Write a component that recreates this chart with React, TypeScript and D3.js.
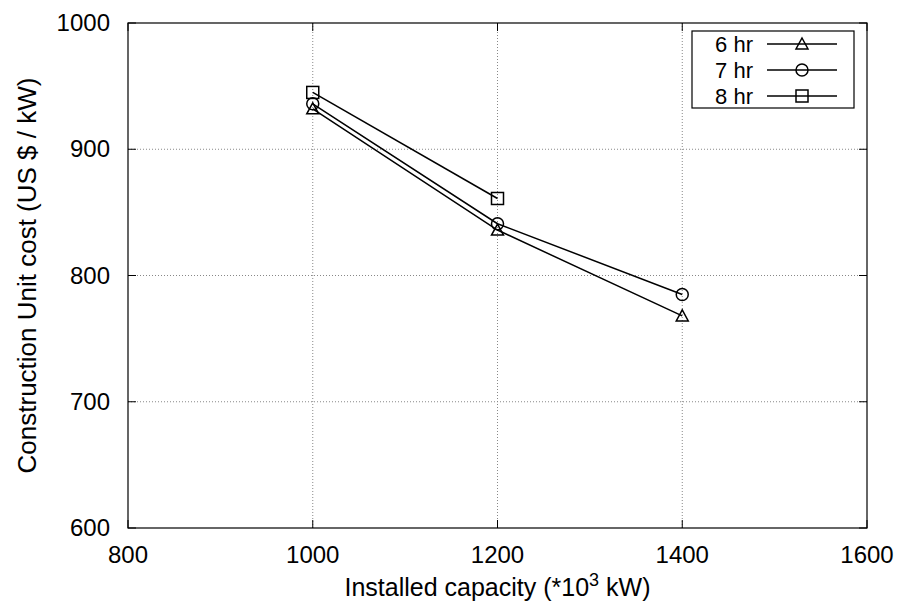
import React, { useEffect, useRef } from 'react';
import * as d3 from 'd3';

const capacities = [1000, 1200, 1400];
const seriesNames = ["6 hr", "7 hr", "8 hr"];
const cost6 = [932, 836, 768];
const cost7 = [936, 841, 785];
const cost8 = [945, 861];
const xTicks = [800, 1000, 1200, 1400, 1600];
const yTicks = [600, 700, 800, 900, 1000];
const markerTypes = ["triangle", "circle", "square"];

const App = () => {
    const svgRef = useRef<SVGSVGElement>(null);

    useEffect(() => {
        const svg = d3.select(svgRef.current);
        svg.selectAll("*").remove();

        const margin = { top: 23, right: 31, bottom: 82, left: 128 };
        const width = 898 - margin.left - margin.right;
        const height = 610 - margin.top - margin.bottom;
        const font = "'Liberation Sans', Arial, sans-serif";

        const g = svg.append("g").attr("transform", `translate(${margin.left},${margin.top})`);

        const x = d3.scaleLinear().domain([800, 1600]).range([0, width]);
        const y = d3.scaleLinear().domain([600, 1000]).range([height, 0]);

        // grid
        g.selectAll(".gx").data(xTicks.slice(1, -1)).enter().append("line")
            .attr("x1", d => x(d)).attr("x2", d => x(d))
            .attr("y1", 0).attr("y2", height)
            .attr("stroke", "#888").attr("stroke-width", 1).attr("stroke-dasharray", "1,2");
        g.selectAll(".gy").data(yTicks.slice(1, -1)).enter().append("line")
            .attr("x1", 0).attr("x2", width)
            .attr("y1", d => y(d)).attr("y2", d => y(d))
            .attr("stroke", "#888").attr("stroke-width", 1).attr("stroke-dasharray", "1,2");

        // inward ticks, mirrored
        const tk = 8;
        xTicks.forEach(t => {
            g.append("line").attr("x1", x(t)).attr("x2", x(t)).attr("y1", height).attr("y2", height - tk).attr("stroke", "#000");
            g.append("line").attr("x1", x(t)).attr("x2", x(t)).attr("y1", 0).attr("y2", tk).attr("stroke", "#000");
        });
        yTicks.forEach(t => {
            g.append("line").attr("x1", 0).attr("x2", tk).attr("y1", y(t)).attr("y2", y(t)).attr("stroke", "#000");
            g.append("line").attr("x1", width).attr("x2", width - tk).attr("y1", y(t)).attr("y2", y(t)).attr("stroke", "#000");
        });

        g.append("rect").attr("width", width).attr("height", height)
            .attr("fill", "none").attr("stroke", "#000").attr("stroke-width", 1.2);

        // tick labels
        g.selectAll(".xl").data(xTicks).enter().append("text")
            .attr("x", d => x(d)).attr("y", height + 35)
            .attr("text-anchor", "middle").attr("font-family", font).attr("font-size", 24)
            .text(d => d);
        g.selectAll(".yl").data(yTicks).enter().append("text")
            .attr("x", -18).attr("y", d => y(d) + 8)
            .attr("text-anchor", "end").attr("font-family", font).attr("font-size", 24)
            .text(d => d);

        // axis titles
        const xt = svg.append("text")
            .attr("x", margin.left + width / 2).attr("y", 596)
            .attr("text-anchor", "middle").attr("font-family", font).attr("font-size", 25);
        xt.append("tspan").text("Installed capacity (*10");
        xt.append("tspan").attr("dy", -10).attr("font-size", 18).text("3");
        xt.append("tspan").attr("dy", 10).text(" kW)");

        svg.append("text")
            .attr("transform", `translate(36,${margin.top + height / 2}) rotate(-90)`)
            .attr("text-anchor", "middle").attr("font-family", font).attr("font-size", 26)
            .text("Construction Unit cost (US $ / kW)");

        const drawMarker = (sel: any, type: string, cx: number, cy: number) => {
            if (type === "triangle") {
                sel.append("path")
                    .attr("d", `M${cx},${cy - 6}L${cx + 6},${cy + 5}L${cx - 6},${cy + 5}Z`)
                    .attr("fill", "none").attr("stroke", "#000").attr("stroke-width", 1.5);
            } else if (type === "circle") {
                sel.append("circle").attr("cx", cx).attr("cy", cy).attr("r", 6)
                    .attr("fill", "none").attr("stroke", "#000").attr("stroke-width", 1.5);
            } else {
                sel.append("rect").attr("x", cx - 6).attr("y", cy - 6).attr("width", 12).attr("height", 12)
                    .attr("fill", "none").attr("stroke", "#000").attr("stroke-width", 1.5);
            }
        };

        const allSeries = [cost6, cost7, cost8];
        const line = d3.line<number>().x((_, i) => x(capacities[i])).y(d => y(d));

        allSeries.forEach((vals, si) => {
            g.append("path").datum(vals).attr("d", line)
                .attr("fill", "none").attr("stroke", "#000").attr("stroke-width", 1.5);
            vals.forEach((v, i) => drawMarker(g, markerTypes[si], x(capacities[i]), y(v)));
        });

        // legend
        const lg = svg.append("g");
        lg.append("rect").attr("x", 692).attr("y", 31).attr("width", 162).attr("height", 77)
            .attr("fill", "#fff").attr("stroke", "#000").attr("stroke-width", 1.2);
        seriesNames.forEach((name, i) => {
            const cy = 44 + i * 26;
            lg.append("text").attr("x", 753).attr("y", cy + 8)
                .attr("text-anchor", "end").attr("font-family", font).attr("font-size", 22)
                .text(name);
            lg.append("line").attr("x1", 767).attr("x2", 837).attr("y1", cy).attr("y2", cy)
                .attr("stroke", "#000").attr("stroke-width", 1.5);
            drawMarker(lg, markerTypes[i], 802, cy);
        });
    }, []);

    return (
        <svg ref={svgRef} width={898} height={610} style={{ position: "absolute", left: 0, top: 0, background: "#fff" }}></svg>
    );
};

export default App;
